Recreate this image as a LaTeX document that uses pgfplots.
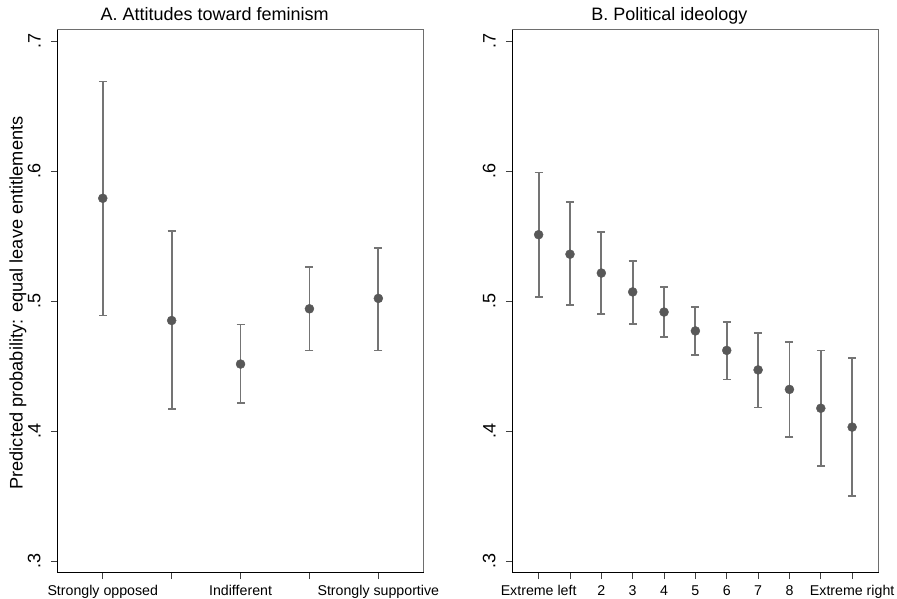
\documentclass[border=0pt]{standalone}
\usepackage{fontspec}
\setmainfont{Liberation Sans}
\usepackage{pgfplots}
\usepackage{pgfplotstable}
\pgfplotsset{compat=1.18}
\definecolor{mk}{HTML}{585858}
\definecolor{eb}{HTML}{747474}
\definecolor{fr}{HTML}{6E6E6E}

\pgfplotstableread{
x y lo hi
1 0.579 0.489 0.669
2 0.485 0.417 0.554
3 0.4515 0.4215 0.482
4 0.494 0.462 0.526
5 0.502 0.462 0.541
}\feminism

\pgfplotstableread{
x y lo hi
0 0.551 0.503 0.599
1 0.536 0.497 0.576
2 0.5215 0.490 0.553
3 0.507 0.4825 0.531
4 0.4915 0.4725 0.511
5 0.477 0.4585 0.4955
6 0.462 0.4395 0.484
7 0.447 0.418 0.4755
8 0.432 0.3955 0.4685
9 0.4175 0.373 0.462
10 0.403 0.350 0.456
}\ideology

\pgfplotsset{
  panel/.style={
    scale only axis, width=366.5pt, height=543pt, anchor=south west,
    ymin=0.291, ymax=0.7087,
    ytick={0.3,0.4,0.5,0.6,0.7}, yticklabels={.3,.4,.5,.6,.7},
    tick align=outside, tick pos=left,
    major tick length=6.5pt,
    every tick/.style={color=black!75, line width=0.9pt},
    axis line style={fr, line width=0.9pt},
    yticklabel style={rotate=90, anchor=south, inner sep=0pt, font=\fontsize{18}{18}\selectfont},
    yticklabel shift=10pt,
    xticklabel style={anchor=north, inner sep=0pt, font=\fontsize{14.2}{14.2}\selectfont},
    xticklabel shift=6pt,
    /pgf/number format/assume math mode=true,
    clip=false,
  },
  dots/.style={
    only marks, mark=*, mark size=4.5pt, mark options={fill=mk, draw=mk},
    error bars/.cd, y dir=both, y explicit,
    error bar style={eb, line width=1.8pt},
    error mark options={rotate=90, eb, line width=1.6pt, mark size=4pt},
  },
}

\begin{document}
\begin{tikzpicture}[x=1pt,y=1pt]
\useasboundingbox (0,0) rectangle (897,598);

\begin{axis}[panel, at={(57.3pt,25.3pt)},
  xmin=0.34, xmax=5.66,
  xtick={1,2,3,4,5},
  xticklabels={Strongly opposed,,Indifferent,,Strongly supportive}]
\addplot[dots] table[x=x, y=y, y error plus expr=\thisrow{hi}-\thisrow{y}, y error minus expr=\thisrow{y}-\thisrow{lo}] {\feminism};
\draw[black, line width=1.4pt] (rel axis cs:0,1) -- (rel axis cs:0,0) -- (rel axis cs:1,0);
\end{axis}

\begin{axis}[panel, at={(512.3pt,25.3pt)},
  xmin=-0.84, xmax=10.85,
  xtick={0,1,2,3,4,5,6,7,8,9,10},
  xticklabels={Extreme left,,2,3,4,5,6,7,8,,Extreme right}]
\addplot[dots] table[x=x, y=y, y error plus expr=\thisrow{hi}-\thisrow{y}, y error minus expr=\thisrow{y}-\thisrow{lo}] {\ideology};
\draw[black, line width=1.4pt] (rel axis cs:0,1) -- (rel axis cs:0,0) -- (rel axis cs:1,0);
\end{axis}

\node[anchor=base, font=\fontsize{18}{18}\selectfont] at (214.7,577) {A. Attitudes toward feminism};
\node[anchor=base, font=\fontsize{18}{18}\selectfont] at (669.4,577) {B. Political ideology};
\node[rotate=90, anchor=base, font=\fontsize{18.2}{18}\selectfont] at (22.7,295) {Predicted probability: equal leave entitlements};
\end{tikzpicture}
\end{document}
